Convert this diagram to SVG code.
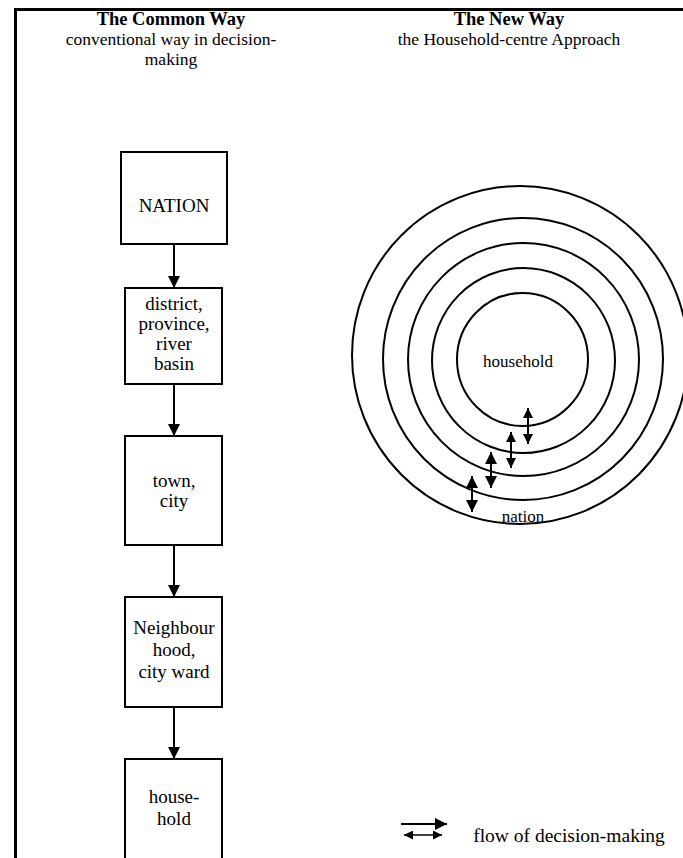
<svg xmlns="http://www.w3.org/2000/svg" width="683" height="858" viewBox="0 0 683 858">
<style>
.t{font-family:"Liberation Serif","Times New Roman",serif;fill:#000;text-anchor:middle}
.title{font-size:18.5px;font-weight:bold}
.sub{font-size:17.5px}
.lbl{font-size:19px}
.box{fill:#fff;stroke:#000;stroke-width:2}
.ring{fill:none;stroke:#000;stroke-width:2}
.con{stroke:#000;stroke-width:2;fill:none}
</style>
<defs>
<marker id="ah" viewBox="0 0 10 10" refX="10" refY="5" markerWidth="6" markerHeight="6" orient="auto-start-reverse" markerUnits="strokeWidth">
<path d="M0,0 L10,5 L0,10 z" fill="#000"/>
</marker>
<marker id="ah2" viewBox="0 0 10 10" refX="10" refY="5" markerWidth="5" markerHeight="5" orient="auto-start-reverse" markerUnits="strokeWidth">
<path d="M0,0 L10,5 L0,10 z" fill="#000"/>
</marker>
</defs>
<rect width="683" height="858" fill="#fff"/>
<path d="M15.5,858 V9.5 H683" fill="none" stroke="#000" stroke-width="3"/>
<g id="headers">
<text class="t title" x="171" y="25">The Common Way</text>
<text class="t sub" x="171" y="45">conventional way in decision-</text>
<text class="t sub" x="171" y="64.5">making</text>
<text class="t title" x="509" y="25">The New Way</text>
<text class="t sub" x="509" y="45">the Household-centre Approach</text>
</g>
<g id="connectors">
<line class="con" x1="174" y1="244" x2="174" y2="288" marker-end="url(#ah)"/>
<line class="con" x1="174" y1="384" x2="174" y2="436" marker-end="url(#ah)"/>
<line class="con" x1="174" y1="545" x2="174" y2="597" marker-end="url(#ah)"/>
<line class="con" x1="174" y1="707" x2="174" y2="759" marker-end="url(#ah)"/>
</g>
<g id="nation-box">
<rect class="box" x="121" y="152" width="106" height="92"/>
<text class="t lbl" x="174" y="212">NATION</text>
</g>
<g id="district-box">
<rect class="box" x="125" y="288" width="97" height="96"/>
<text class="t lbl" x="174" y="310">district,</text>
<text class="t lbl" x="174" y="330">province,</text>
<text class="t lbl" x="174" y="350">river</text>
<text class="t lbl" x="174" y="370">basin</text>
</g>
<g id="town-box">
<rect class="box" x="125" y="436" width="97" height="109"/>
<text class="t lbl" x="174" y="487">town,</text>
<text class="t lbl" x="174" y="507">city</text>
</g>
<g id="neighbourhood-box">
<rect class="box" x="125" y="597" width="97" height="110"/>
<text class="t lbl" x="174" y="634">Neighbour</text>
<text class="t lbl" x="174" y="656">hood,</text>
<text class="t lbl" x="174" y="678">city ward</text>
</g>
<g id="household-box">
<rect class="box" x="125" y="759" width="97" height="110"/>
<text class="t lbl" x="174" y="803">house-</text>
<text class="t lbl" x="174" y="825">hold</text>
</g>
<g id="rings">
<ellipse class="ring" cx="520" cy="355" rx="168" ry="169"/>
<ellipse class="ring" cx="523" cy="359" rx="140" ry="141"/>
<ellipse class="ring" cx="523.5" cy="359.5" rx="115.5" ry="116.5"/>
<ellipse class="ring" cx="523.5" cy="360.5" rx="91.5" ry="92.5"/>
<ellipse class="ring" cx="522.5" cy="359.5" rx="65.5" ry="66.5"/>
<text class="t" font-size="17" x="518" y="367">household</text>
<text class="t" font-size="17" x="523" y="522">nation</text>
</g>
<g id="flow-arrows">
<line class="con" x1="528" y1="408" x2="528" y2="444" marker-start="url(#ah2)" marker-end="url(#ah2)"/>
<line class="con" x1="511" y1="432" x2="511" y2="468" marker-start="url(#ah2)" marker-end="url(#ah2)"/>
<line class="con" x1="491" y1="452" x2="491" y2="488" marker-start="url(#ah)" marker-end="url(#ah)"/>
<line class="con" x1="472" y1="476" x2="472" y2="512" marker-start="url(#ah)" marker-end="url(#ah)"/>
</g>
<g id="legend">
<line class="con" x1="401" y1="824" x2="447" y2="824" marker-end="url(#ah)"/>
<line x1="404" y1="835" x2="442" y2="835" stroke="#000" stroke-width="1.5" marker-start="url(#ah)" marker-end="url(#ah)"/>
<text class="t" font-size="19.5" x="569" y="842">flow of decision-making</text>
</g>
</svg>
